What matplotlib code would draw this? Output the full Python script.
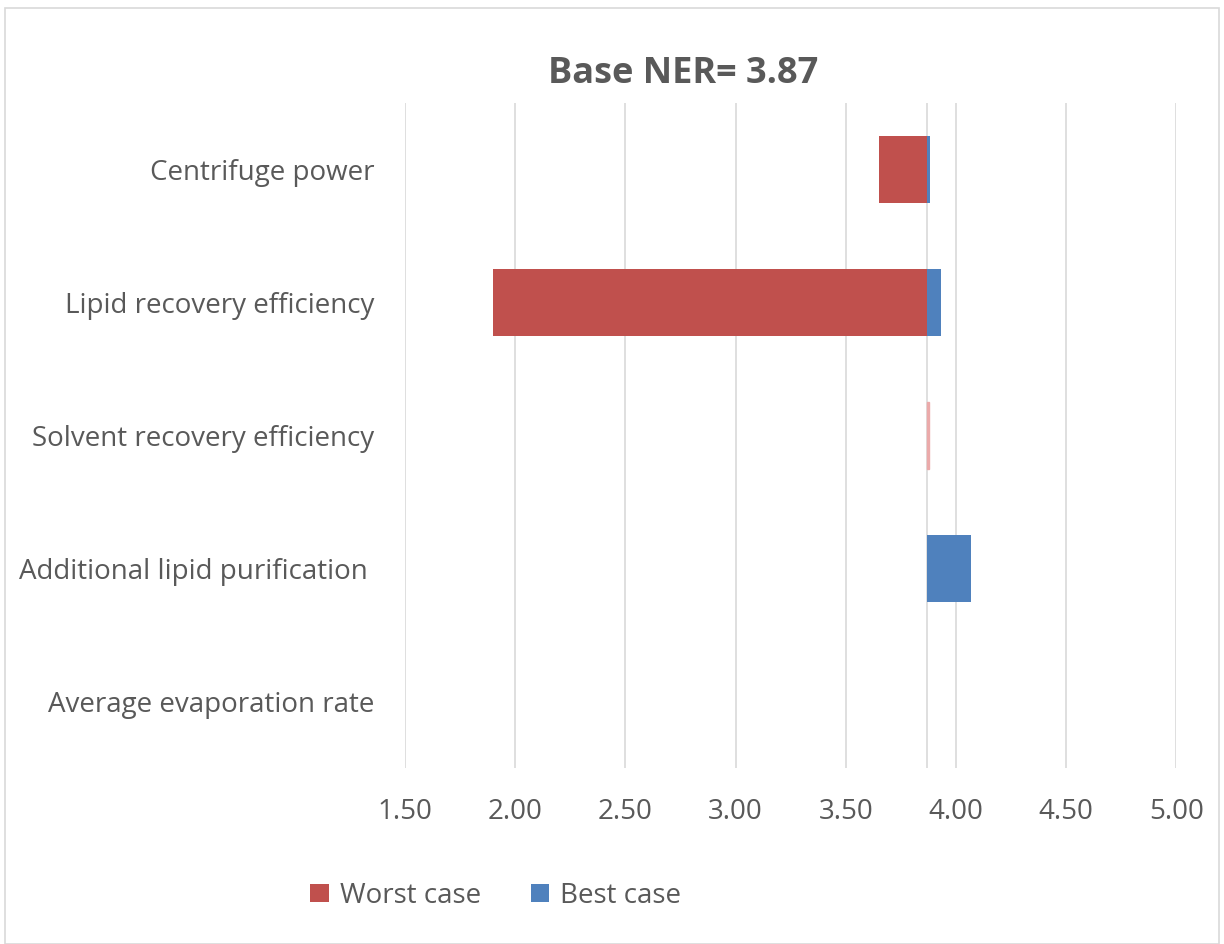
import matplotlib.pyplot as plt
from matplotlib.patches import Rectangle

plt.rcParams['font.family'] = ['Open Sans', 'DejaVu Sans']

# data
categories = ['Centrifuge power', 'Lipid recovery efficiency', 'Solvent recovery efficiency',
              'Additional lipid purification ', 'Average evaporation rate']
base = 3.87
worst_case = [3.65, 1.90, 3.876, 3.87, 3.87]
best_case = [3.88, 3.93, 3.87, 4.07, 3.87]
x_ticks = [1.5, 2.0, 2.5, 3.0, 3.5, 4.0, 4.5, 5.0]

red = '#C0504D'
blue = '#4F81BD'
text_col = '#595959'
grid_col = '#D9D9D9'

fig = plt.figure(figsize=(12.24, 9.44), dpi=100)
ax = fig.add_axes([0.331, 0.186, 0.630, 0.705])

# outer chart border
fig.patches.append(Rectangle((0.004, 0.0), 0.992, 0.991, transform=fig.transFigure,
                             fill=False, edgecolor=grid_col, linewidth=1.2))

y = list(range(len(categories)))
worst_w = [w - base for w in worst_case]
best_w = [b - base for b in best_case]

ax.barh(y, worst_w, left=base, height=0.5, color=red, label='Worst case', zorder=3)
ax.barh(y, best_w, left=base, height=0.5, color=blue, label='Best case', zorder=3)
# solvent recovery bar is a faint sliver
ax.patches[2].set_color('#EBAAAA')

ax.set_xlim(1.5, 5.0)
ax.set_ylim(4.5, -0.5)
ax.set_xticks(x_ticks)
ax.set_xticklabels(['%.2f' % t for t in x_ticks])
ax.set_yticks(y)
ax.set_yticklabels(categories)

ax.grid(axis='x', color=grid_col, linewidth=1.2, zorder=0)
ax.axvline(base, color=grid_col, linewidth=1.2, zorder=1)
for s in ax.spines.values():
    s.set_visible(False)
ax.tick_params(axis='both', length=0, labelsize=20, colors=text_col)
ax.tick_params(axis='y', pad=22)
ax.tick_params(axis='x', pad=21)

fig.text(0.558, 0.922, 'Base NER= 3.87', fontsize=26, fontweight='bold', color=text_col,
         ha='center', va='center')

leg = fig.legend(loc='center', bbox_to_anchor=(0.405, 0.051), ncol=2, frameon=False,
                 fontsize=20, handlelength=0.65, handleheight=0.65, columnspacing=1.8,
                 handletextpad=0.4)
for t in leg.get_texts():
    t.set_color(text_col)

fig.savefig('out.png', dpi=100)
